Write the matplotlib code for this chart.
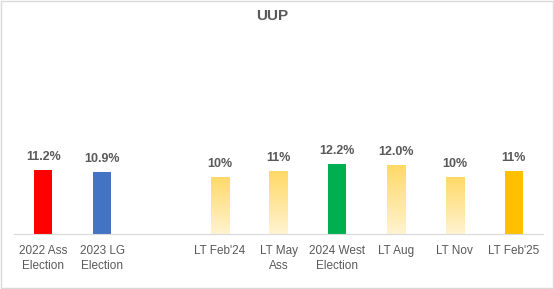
import numpy as np
import matplotlib
matplotlib.use("Agg")
import matplotlib.pyplot as plt
from matplotlib.colors import LinearSegmentedColormap
from matplotlib.patches import Rectangle

# ─── Data ────────────────────────────────────────────────────────────────
categories = ["2022 Ass\nElection", "2023 LG\nElection", "",
              "LT Feb'24", "LT May\nAss", "2024 West\nElection",
              "LT Aug", "LT Nov", "LT Feb'25"]
values = [11.2, 10.9, None, 10, 11, 12.2, 12.0, 10, 11]
value_labels = ["11.2%", "10.9%", "", "10%", "11%", "12.2%", "12.0%", "10%", "11%"]
bar_styles = ["#FF0000", "#4472C4", None, "grad", "grad", "#00B050",
              "grad", "grad", "#FFC000"]

TEXT = "#595959"
AXIS = "#D9D9D9"
grad_cmap = LinearSegmentedColormap.from_list("fade", ["#FFF3D1", "#FFD966"])

plt.rcParams["font.family"] = ["Liberation Sans", "DejaVu Sans"]

fig = plt.figure(figsize=(5.54, 2.89), dpi=100)
ax = fig.add_axes([14 / 554, 55 / 289, 529 / 554, 80 / 289])

x = np.arange(len(categories))
width = 0.31
for xi, v, style, lab in zip(x, values, bar_styles, value_labels):
    if v is None:
        continue
    if style == "grad":
        bar = ax.bar(xi, v, width=width, color="none", edgecolor="none")[0]
        img = np.linspace(0, 1, 256).reshape(-1, 1)
        im = ax.imshow(img, cmap=grad_cmap, origin="lower", aspect="auto",
                       extent=[xi - width / 2, xi + width / 2, 0, v], zorder=2)
        im.set_clip_path(bar)
    else:
        ax.bar(xi, v, width=width, color=style, zorder=2)
    ax.annotate(lab, (xi, v), xytext=(0, 5), textcoords="offset points",
                ha="center", va="bottom", fontsize=9, fontweight="bold",
                color=TEXT)

ax.set_xlim(-0.5, len(categories) - 0.5)
ax.set_ylim(0, 14)
ax.set_xticks(x)
ax.set_xticklabels(categories, fontsize=8.5, color=TEXT, linespacing=1.35)
ax.tick_params(axis="x", length=0, pad=8)
ax.set_yticks([])
for side in ["top", "left", "right"]:
    ax.spines[side].set_visible(False)
ax.spines["bottom"].set_color(AXIS)
ax.patch.set_alpha(0)

fig.text(272 / 554, 1 - 16 / 289, "UUP", ha="center", va="center",
         fontsize=11, fontweight="bold", color=TEXT)

fig.patches.append(Rectangle((0.5 / 554, 1.5 / 289), 552.5 / 554, 287 / 289,
                             transform=fig.transFigure, fill=False,
                             edgecolor=AXIS, linewidth=1))

fig.savefig("out.png", dpi=100)
